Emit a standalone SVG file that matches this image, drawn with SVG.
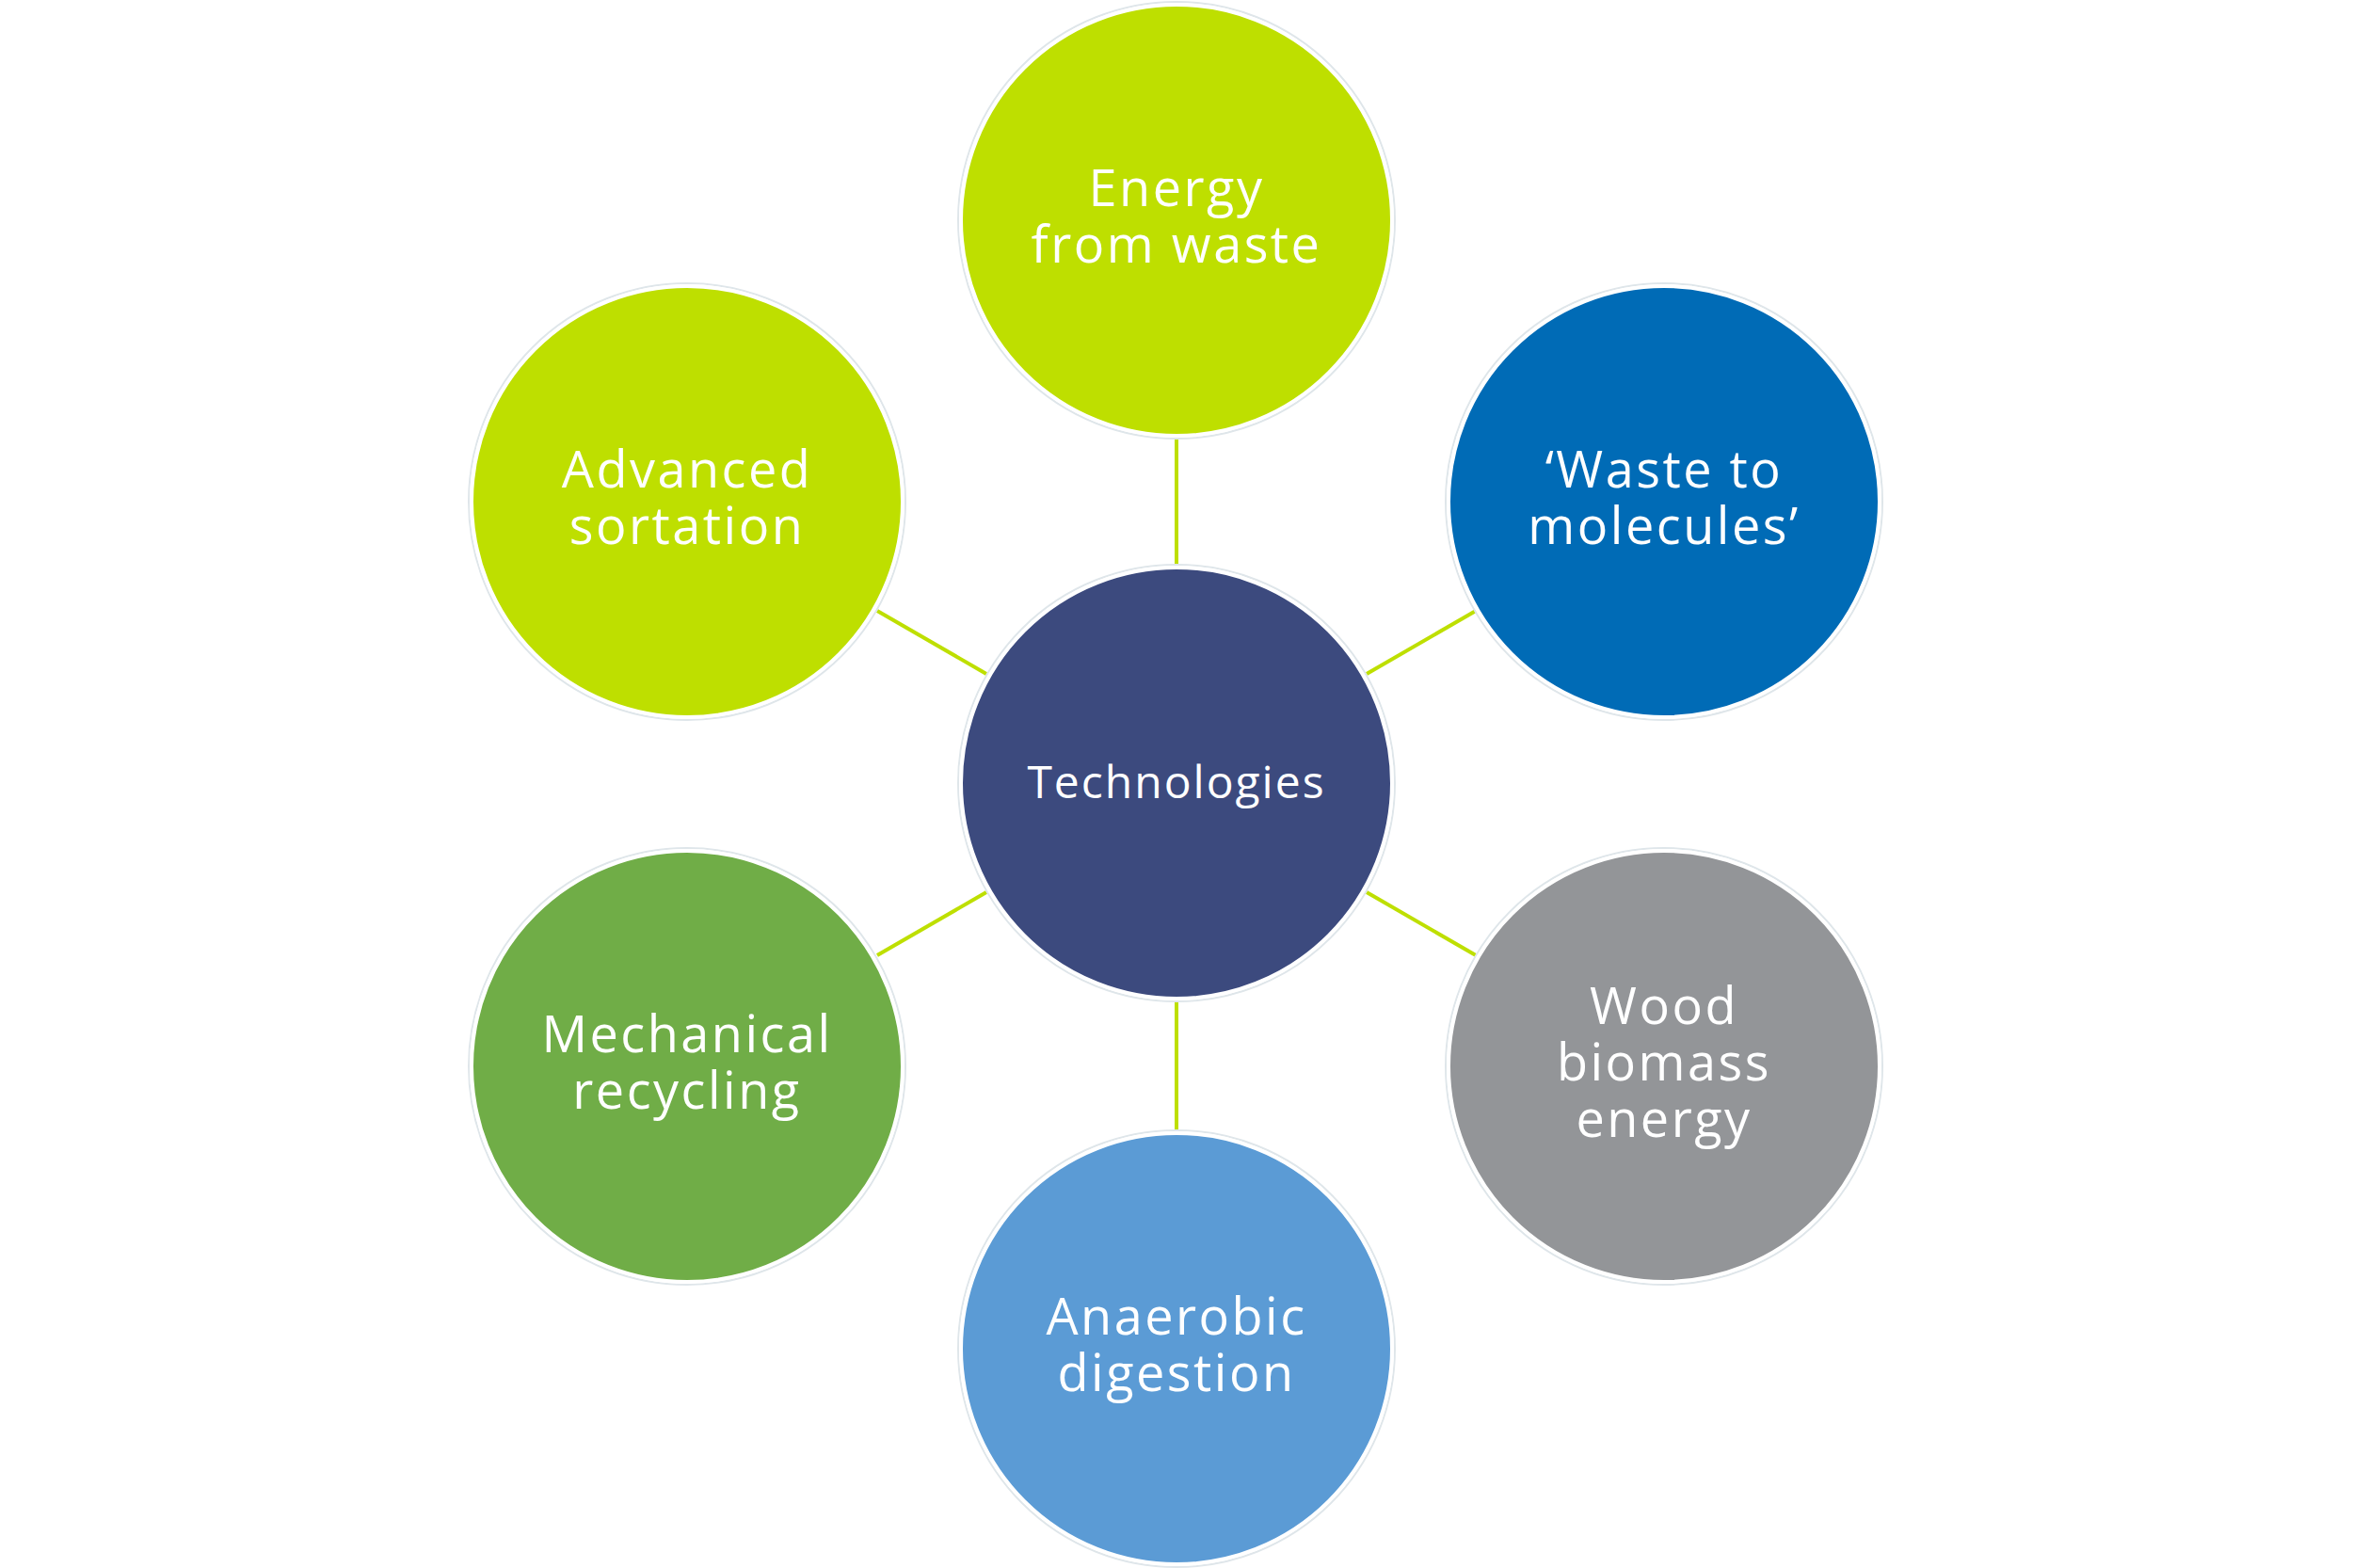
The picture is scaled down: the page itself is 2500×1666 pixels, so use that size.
<svg xmlns="http://www.w3.org/2000/svg" width="2500" height="1666" viewBox="0 0 2500 1666">
<style>
.c{stroke:#ffffff;stroke-width:4}
.o{fill:none;stroke:#dfe6ea;stroke-width:2}
.t{font-family:"Open Sans","Noto Sans",sans-serif;font-size:54px;letter-spacing:2.5px;fill:#ffffff;text-anchor:middle}
.l{stroke:#bedf00;stroke-width:4}
</style>
<rect width="2500" height="1666" fill="#ffffff"/>
<g transform="translate(-5,-3)">
<g id="connectors">
<line class="l" x1="1255" y1="605" x2="1255" y2="467"/>
<line class="l" x1="1255" y1="1065" x2="1255" y2="1203"/>
<line class="l" x1="1053" y1="719" x2="937" y2="652"/>
<line class="l" x1="1457" y1="719" x2="1573" y2="652"/>
<line class="l" x1="1053" y1="951" x2="937" y2="1018"/>
<line class="l" x1="1457" y1="951" x2="1573" y2="1018"/>
</g>
<g id="center"><circle class="o" cx="1255" cy="835" r="232"/><circle class="c" cx="1255" cy="835" r="229" fill="#3c4a7e"/><text class="t" x="1255" y="851" style="font-size:48px;letter-spacing:2px">Technologies</text></g>
<g id="energy"><circle class="o" cx="1255" cy="237" r="232"/><circle class="c" cx="1255" cy="237" r="229" fill="#bedf00"/><text class="t" x="1255" y="222">Energy</text><text class="t" x="1255" y="282">from waste</text></g>
<g id="advanced"><circle class="o" cx="735" cy="536" r="232"/><circle class="c" cx="735" cy="536" r="229" fill="#bedf00"/><text class="t" x="735" y="521">Advanced</text><text class="t" x="735" y="581">sortation</text></g>
<g id="molecules"><circle class="o" cx="1773" cy="536" r="232"/><circle class="c" cx="1773" cy="536" r="229" fill="#006bb6"/><text class="t" x="1773" y="521">‘Waste to</text><text class="t" x="1773" y="581">molecules’</text></g>
<g id="mechanical"><circle class="o" cx="735" cy="1136" r="232"/><circle class="c" cx="735" cy="1136" r="229" fill="#70ad47"/><text class="t" x="735" y="1121">Mechanical</text><text class="t" x="735" y="1181">recycling</text></g>
<g id="wood"><circle class="o" cx="1773" cy="1136" r="232"/><circle class="c" cx="1773" cy="1136" r="229" fill="#939598"/><text class="t" x="1773" y="1091">Wood</text><text class="t" x="1773" y="1151">biomass</text><text class="t" x="1773" y="1211">energy</text></g>
<g id="anaerobic"><circle class="o" cx="1255" cy="1436" r="232"/><circle class="c" cx="1255" cy="1436" r="229" fill="#5b9bd5"/><text class="t" x="1255" y="1421">Anaerobic</text><text class="t" x="1255" y="1481">digestion</text></g>
</g>
</svg>
